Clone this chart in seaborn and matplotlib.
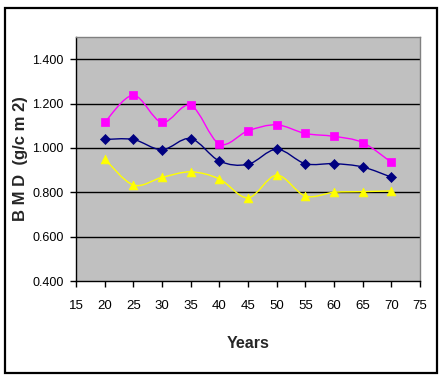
import numpy as np
import pandas as pd
import matplotlib
matplotlib.use("Agg")
import matplotlib.pyplot as plt
from matplotlib.path import Path
from matplotlib.patches import PathPatch, Rectangle
import seaborn as sns

years = [20, 25, 30, 35, 40, 45, 50, 55, 60, 65, 70]
series_top = [1.115, 1.237, 1.115, 1.192, 1.018, 1.077, 1.104, 1.065, 1.052, 1.024, 0.935]
series_mid = [1.038, 1.038, 0.992, 1.042, 0.941, 0.926, 0.994, 0.929, 0.929, 0.914, 0.868]
series_low = [0.950, 0.833, 0.867, 0.892, 0.860, 0.775, 0.877, 0.783, 0.800, 0.803, 0.806]
x_ticks = [15, 20, 25, 30, 35, 40, 45, 50, 55, 60, 65, 70, 75]
y_ticks = [0.4, 0.6, 0.8, 1.0, 1.2, 1.4]

sns.set_style("white")
plt.rcParams['font.family'] = ['Liberation Sans', 'DejaVu Sans']

fig = plt.figure(figsize=(4.43, 3.81), dpi=100)
ax = fig.add_axes([76/443, 100/381, 344/443, 244/381])
ax.set_facecolor("#C0C0C0")

def smooth_path(xs, ys):
    pts = np.column_stack([xs, ys]).astype(float)
    n = len(pts)
    verts = [pts[0]]
    codes = [Path.MOVETO]
    for i in range(n - 1):
        p0 = pts[i - 1] if i > 0 else pts[i]
        p1 = pts[i]
        p2 = pts[i + 1]
        p3 = pts[i + 2] if i + 2 < n else pts[i + 1]
        c1 = p1 + (p2 - p0) / 6.0
        c2 = p2 - (p3 - p1) / 6.0
        verts += [c1, c2, p2]
        codes += [Path.CURVE4] * 3
    return Path(verts, codes)

specs = [
    (series_top, "#FF00FF", "s", 36),
    (series_mid, "#000080", "D", 26),
    (series_low, "#FFFF00", "^", 40),
]
for vals, color, marker, size in specs:
    ax.add_patch(PathPatch(smooth_path(years, vals), facecolor="none",
                           edgecolor=color, lw=1.0, zorder=3))
    df = pd.DataFrame({"x": years, "y": vals})
    sns.scatterplot(data=df, x="x", y="y", marker=marker, color=color,
                    s=size, edgecolor=color, linewidth=0.5, ax=ax, zorder=4)

ax.set_xlim(15, 75)
ax.set_ylim(0.4, 1.5)
ax.set_xticks(x_ticks)
ax.set_yticks(y_ticks)
ax.set_yticklabels([f"{v:.3f}" for v in y_ticks])
ax.grid(False)
for v in y_ticks[1:]:
    ax.axhline(v, color="black", lw=1.0, zorder=1)

ax.tick_params(axis="both", direction="out", length=4, width=1, color="black",
               labelsize=9.5, labelcolor="black", bottom=True, left=True)
ax.tick_params(axis="x", pad=10)
ax.tick_params(axis="y", pad=5, labelsize=9)

for s in ["left", "bottom"]:
    ax.spines[s].set_color("black")
    ax.spines[s].set_linewidth(1.0)
for s in ["top", "right"]:
    ax.spines[s].set_visible(True)
    ax.spines[s].set_color("#808080")
    ax.spines[s].set_linewidth(1.0)

ax.set_xlabel("Years", fontsize=11.5, fontweight="bold", labelpad=17)
ax.set_ylabel("B M D  (g/c m 2)", fontsize=12, fontweight="bold")
ax.yaxis.set_label_coords(-0.162, 0.5)
ax.yaxis.label.set_verticalalignment("center")

fig.patches.append(Rectangle((5/443, 8/381), 432/443, 365/381, transform=fig.transFigure,
                             fill=False, edgecolor="black", lw=1.6))

fig.savefig("out.png", dpi=100)
